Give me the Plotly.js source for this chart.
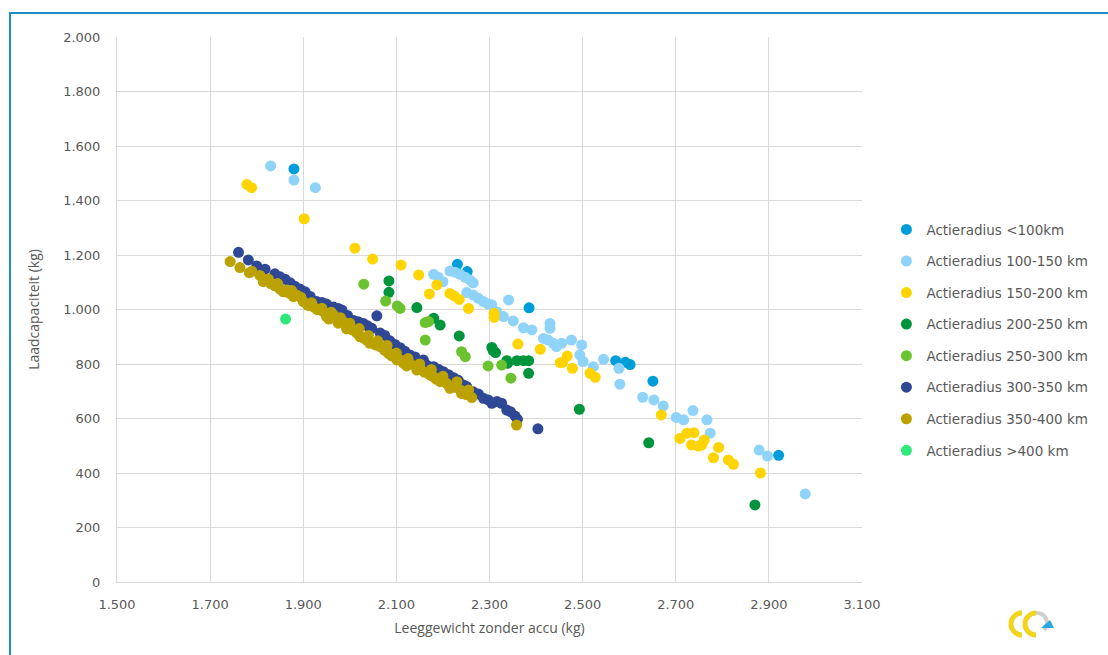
<!DOCTYPE html>
<html>
<head>
<meta charset="utf-8">
<script src="https://cdn.plot.ly/plotly-3.0.1.min.js"></script>
<style>
  html, body { margin: 0; padding: 0; background: #ffffff; }
  #wrap { position: relative; width: 1108px; height: 655px; overflow: hidden; }
  #chart { position: absolute; left: 0; top: 0; width: 1108px; height: 655px; }
  #frame { position: absolute; left: 9px; top: 12px; right: -5px; bottom: -5px;
           border-top: 2px solid #1c8fc6; border-left: 2px solid #1c8fc6; pointer-events: none; }
  #logo { position: absolute; left: 1008px; top: 607px; width: 50px; height: 34px; }
</style>
</head>
<body>
<div id="wrap">
  <div id="chart"></div>
  <div id="frame"></div>
  <svg id="logo" viewBox="0 0 50 34">
    <path d="M14 6 A10 10 0 1 0 14 28" fill="none" stroke="#f3d41c" stroke-width="5"/>
    <path d="M28 6 A10 10 0 1 0 28 28" fill="none" stroke="#f3d41c" stroke-width="5"/>
    <path d="M28 6 A10 10 0 0 1 36 23" fill="none" stroke="#cfcfcf" stroke-width="4"/>
    <polygon points="33,21 46,21 42,13" fill="#2aa7e1"/>
  </svg>
</div>
<script>
// ---- Data ----
const seriesNames = [
  "Actieradius <100km",
  "Actieradius 100-150 km",
  "Actieradius 150-200 km",
  "Actieradius 200-250 km",
  "Actieradius 250-300 km",
  "Actieradius 300-350 km",
  "Actieradius 350-400 km",
  "Actieradius >400 km"
];

const r0_x = [1880, 2231, 2252, 2385, 2571, 2592, 2602, 2651, 2921];
const r0_y = [1516, 1166, 1139, 1006, 812, 806, 798, 737, 465];

const r1_x = [1830, 1880, 1926, 2180, 2190, 2200, 2215, 2226, 2237, 2248, 2258, 2265,
  2251, 2265, 2276, 2287, 2297, 2305, 2341, 2316, 2330, 2351, 2373, 2391, 2430, 2430,
  2416, 2426, 2437, 2444, 2455, 2476, 2498, 2494, 2501, 2523, 2545, 2578, 2580, 2629,
  2653, 2673, 2701, 2717, 2737, 2767, 2774, 2879, 2897, 2978];
const r1_y = [1527, 1475, 1447, 1129, 1118, 1102, 1141, 1137, 1129, 1118, 1108, 1098,
  1062, 1053, 1041, 1029, 1020, 1017, 1035, 992, 974, 958, 933, 925, 949, 931,
  894, 888, 876, 864, 876, 888, 870, 833, 809, 790, 817, 784, 726, 678,
  668, 646, 604, 595, 629, 595, 546, 484, 462, 323];

const r2_x = [1779, 1789, 1902, 2011, 2049, 2110, 2148, 2187, 2171, 2215, 2224, 2235,
  2255, 2310, 2310, 2361, 2409, 2452, 2467, 2457, 2478, 2516, 2527, 2669, 2709, 2724,
  2739, 2734, 2749, 2761, 2756, 2792, 2781, 2813, 2824, 2882];
const r2_y = [1459, 1447, 1333, 1225, 1185, 1163, 1127, 1090, 1057, 1059, 1050, 1037,
  1004, 986, 971, 873, 854, 805, 829, 806, 784, 766, 751, 613, 527, 546,
  548, 503, 499, 521, 503, 494, 456, 448, 432, 400];

const r3_x = [2084, 2084, 2144, 2180, 2194, 2235, 2305, 2308, 2313, 2337, 2359, 2373,
  2384, 2339, 2384, 2493, 2642, 2870];
const r3_y = [1105, 1063, 1007, 968, 943, 903, 861, 849, 842, 812, 812, 812,
  812, 803, 766, 634, 511, 283];

const r4_x = [2030, 2077, 2102, 2108, 2162, 2169, 2162, 2240, 2248, 2297, 2326, 2346];
const r4_y = [1093, 1031, 1013, 1004, 952, 956, 888, 845, 827, 793, 796, 748];

const r5_x = [1761, 1782, 1800, 1818, 1839, 1850, 1861, 1872, 1882, 1893, 1904, 1915,
  1929, 1940, 1950, 1965, 1975, 1983, 1995, 2008, 2018, 2029, 2038, 2047, 2058, 2065,
  2075, 2086, 2097, 2108, 2118, 2129, 2140, 2158, 2165, 2180, 2190, 2201, 2212, 2223,
  2233, 2244, 2251, 2265, 2276, 2287, 2297, 2305, 2316, 2326, 2337, 2345, 2355, 2360, 2404];
const r5_y = [1210, 1182, 1160, 1148, 1131, 1120, 1111, 1098, 1085, 1075, 1065, 1048,
  1029, 1026, 1020, 1009, 1004, 998, 978, 960, 955, 949, 940, 931, 977, 914,
  905, 885, 872, 860, 847, 833, 826, 815, 796, 790, 781, 772, 761, 750,
  740, 723, 717, 698, 690, 674, 668, 656, 662, 656, 631, 625, 609, 597, 562];

const r6_x = [1743, 1764, 1784, 1807, 1814, 1830, 1839, 1850, 1857, 1865, 1870, 1879,
  1886, 1900, 1910, 1922, 1930, 1943, 1950, 1955, 1965, 1975, 1986, 1993, 2005, 2015,
  2022, 2030, 2036, 2043, 2055, 2065, 2075, 2083, 2090, 2101, 2108, 2115, 2122, 2130,
  2144, 2151, 2160, 2172, 2180, 2185, 2194, 2208, 2215, 2225, 2237, 2240, 2250, 2262, 2358,
  1790, 1825, 1845, 1875, 1895, 1918, 1940, 1960, 1980, 2000, 2020, 2040, 2060, 2080,
  2100, 2125, 2150, 2175, 2200, 2230, 2255];
const r6_y = [1176, 1154, 1135, 1125, 1102, 1095, 1087, 1075, 1065, 1072, 1060, 1047,
  1053, 1029, 1015, 1010, 1000, 992, 974, 965, 980, 950, 955, 929, 925, 913,
  900, 895, 888, 876, 870, 864, 850, 839, 830, 815, 815, 803, 793, 800,
  778, 784, 770, 760, 753, 745, 735, 729, 711, 715, 705, 692, 688, 677, 576,
  1140, 1112, 1095, 1070, 1045, 1025, 1005, 990, 970, 950, 930, 905, 885, 868,
  840, 820, 800, 780, 755, 735, 705];

const r7_x = [1862];
const r7_y = [965];

const xTickVals = [1500, 1700, 1900, 2100, 2300, 2500, 2700, 2900, 3100];
const yTickVals = [0, 200, 400, 600, 800, 1000, 1200, 1400, 1600, 1800, 2000];

// ---- Styling ----
const colors = ["#009ddb", "#8fd3f9", "#ffd400", "#00953c", "#6cc330", "#2e4895", "#bba200", "#2ee97a"];
const xs = [r0_x, r1_x, r2_x, r3_x, r4_x, r5_x, r6_x, r7_x];
const ys = [r0_y, r1_y, r2_y, r3_y, r4_y, r5_y, r6_y, r7_y];

const traces = seriesNames.map((name, i) => ({
  type: "scatter",
  mode: "markers",
  name: name,
  legendgroup: "g" + i,
  x: xs[i],
  y: ys[i],
  marker: { color: colors[i], size: 11, line: { width: 0 } },
  hoverinfo: "x+y+name"
}));

const tickFont = { family: "DejaVu Sans, Verdana, sans-serif", size: 13, color: "#595959" };
const titleFont = { family: "Open Sans, DejaVu Sans, sans-serif", size: 14, color: "#595959" };

const layout = {
  width: 1108,
  height: 655,
  paper_bgcolor: "#ffffff",
  plot_bgcolor: "#ffffff",
  separators: ",.",
  margin: { l: 117, r: 246, t: 37, b: 73, pad: 0 },
  showlegend: true,
  legend: {
    xref: "container", yref: "container",
    x: 0.8, xanchor: "left",
    y: 0.673, yanchor: "top",
    font: { family: "DejaVu Sans, Verdana, sans-serif", size: 13.5, color: "#595959" },
    tracegroupgap: 11,
    traceorder: "grouped",
    itemclick: false
  },
  xaxis: {
    range: [1500, 3100],
    tickvals: xTickVals,
    tickformat: ",d",
    showgrid: true,
    gridcolor: "#d9d9d9",
    gridwidth: 1,
    zeroline: false,
    showline: true,
    linecolor: "#d9d9d9",
    ticks: "outside",
    ticklen: 10,
    tickcolor: "rgba(0,0,0,0)",
    tickfont: tickFont,
    title: { text: "Leeggewicht zonder accu (kg)", font: titleFont, standoff: 12 },
    fixedrange: true
  },
  yaxis: {
    range: [0, 2000],
    tickvals: yTickVals,
    tickformat: ",d",
    showgrid: true,
    gridcolor: "#d9d9d9",
    gridwidth: 1,
    zeroline: false,
    showline: true,
    linecolor: "#d9d9d9",
    ticks: "outside",
    ticklen: 13,
    tickcolor: "rgba(0,0,0,0)",
    tickfont: tickFont,
    title: { text: "Laadcapaciteit (kg)", font: titleFont, standoff: 20 },
    fixedrange: true
  }
};

Plotly.newPlot("chart", traces, layout, { displayModeBar: false, staticPlot: false });
</script>
</body>
</html>
